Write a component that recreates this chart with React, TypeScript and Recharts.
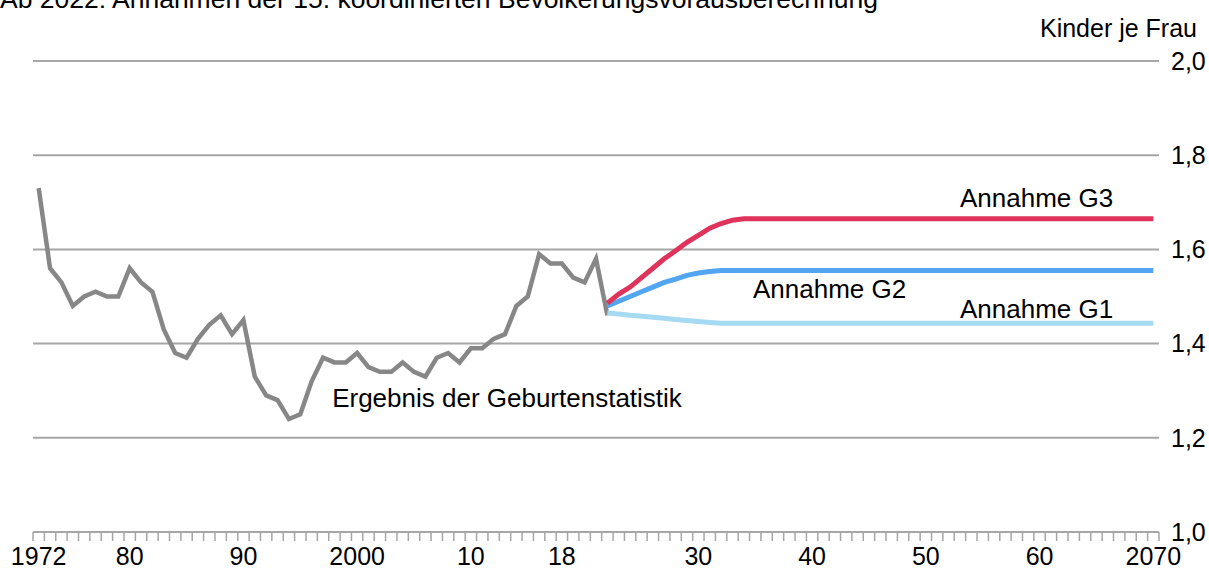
import React from 'react';
import { LineChart, Line, XAxis, YAxis, CartesianGrid, ReferenceDot } from 'recharts';

const FONT = '"Liberation Sans", Arial, "DejaVu Sans", sans-serif';

// categories
const years: number[] = Array.from({ length: 99 }, (_, i) => 1972 + i);
const projectionStartYear = 2022;

// Ergebnis der Geburtenstatistik, 1972–2022
const historyValues = [
  1.73, 1.56, 1.53, 1.48, 1.50, 1.51, 1.50, 1.50, 1.56, 1.53,
  1.51, 1.43, 1.38, 1.37, 1.41, 1.44, 1.46, 1.42, 1.45, 1.33,
  1.29, 1.28, 1.24, 1.25, 1.32, 1.37, 1.36, 1.36, 1.38, 1.35,
  1.34, 1.34, 1.36, 1.34, 1.33, 1.37, 1.38, 1.36, 1.39, 1.39,
  1.41, 1.42, 1.48, 1.50, 1.59, 1.57, 1.57, 1.54, 1.53, 1.58,
  1.46,
];

// Annahmen 2022–2070
const g1Values = [
  1.465, 1.463, 1.460, 1.458, 1.456, 1.454, 1.451, 1.449, 1.447, 1.445,
  1.443, 1.443, 1.443, 1.443, 1.443, 1.443, 1.443, 1.443, 1.443, 1.443,
  1.443, 1.443, 1.443, 1.443, 1.443, 1.443, 1.443, 1.443, 1.443, 1.443,
  1.443, 1.443, 1.443, 1.443, 1.443, 1.443, 1.443, 1.443, 1.443, 1.443,
  1.443, 1.443, 1.443, 1.443, 1.443, 1.443, 1.443, 1.443, 1.443,
];
const g2Values = [
  1.480, 1.490, 1.500, 1.510, 1.520, 1.530, 1.537, 1.545, 1.550, 1.553,
  1.555, 1.555, 1.555, 1.555, 1.555, 1.555, 1.555, 1.555, 1.555, 1.555,
  1.555, 1.555, 1.555, 1.555, 1.555, 1.555, 1.555, 1.555, 1.555, 1.555,
  1.555, 1.555, 1.555, 1.555, 1.555, 1.555, 1.555, 1.555, 1.555, 1.555,
  1.555, 1.555, 1.555, 1.555, 1.555, 1.555, 1.555, 1.555, 1.555,
];
const g3Values = [
  1.486, 1.505, 1.520, 1.540, 1.560, 1.580, 1.597, 1.615, 1.630, 1.645,
  1.655, 1.662, 1.665, 1.665, 1.665, 1.665, 1.665, 1.665, 1.665, 1.665,
  1.665, 1.665, 1.665, 1.665, 1.665, 1.665, 1.665, 1.665, 1.665, 1.665,
  1.665, 1.665, 1.665, 1.665, 1.665, 1.665, 1.665, 1.665, 1.665, 1.665,
  1.665, 1.665, 1.665, 1.665, 1.665, 1.665, 1.665, 1.665, 1.665,
];

const yTicks = [1.0, 1.2, 1.4, 1.6, 1.8, 2.0];
const xLabelYears = [1972, 1980, 1990, 2000, 2010, 2018, 2030, 2040, 2050, 2060, 2070];
const xLabelTexts = ['1972', '80', '90', '2000', '10', '18', '30', '40', '50', '60', '2070'];

const data = years.map((year, i) => ({
  year,
  hist: i < historyValues.length ? historyValues[i] : null,
  g1: year >= projectionStartYear ? g1Values[year - projectionStartYear] : null,
  g2: year >= projectionStartYear ? g2Values[year - projectionStartYear] : null,
  g3: year >= projectionStartYear ? g3Values[year - projectionStartYear] : null,
}));

const boundaryTicks = [...years.map((y) => y - 0.5), years[years.length - 1] + 0.5];
const xTicks = [...boundaryTicks, ...xLabelYears].sort((a, b) => a - b);

const GRID = '#a6a6a6';

const XTick = (props: any) => {
  const { x, y, payload } = props;
  const v = payload.value;
  const idx = xLabelYears.indexOf(v);
  if (idx >= 0) {
    return (
      <text x={x} y={y + 33} textAnchor="middle" fontSize={25} fill="#000" fontFamily={FONT}>
        {xLabelTexts[idx]}
      </text>
    );
  }
  if (!Number.isInteger(v)) {
    return <line x1={x} x2={x} y1={y} y2={y + 9} stroke={GRID} strokeWidth={1.5} />;
  }
  return <g />;
};

const labelStyle = { fontSize: 26, fill: '#000', fontFamily: FONT };

export default function App() {
  return (
    <div style={{ position: 'absolute', left: 0, top: 0, width: 1209, height: 571, background: '#fff', overflow: 'hidden' }}>
      <LineChart
        width={1209}
        height={571}
        data={data}
        margin={{ top: 61, right: 0, left: 33, bottom: 0 }}
        style={{ fontFamily: FONT }}
      >
        <CartesianGrid vertical={false} stroke={GRID} strokeWidth={2} />
        <XAxis
          dataKey="year"
          type="number"
          domain={[1971.5, 2070.5]}
          ticks={xTicks}
          interval={0}
          height={39}
          tickSize={0}
          tickMargin={0}
          tickLine={false}
          axisLine={{ stroke: GRID, strokeWidth: 2 }}
          tick={<XTick />}
          allowDataOverflow
        />
        <YAxis
          orientation="right"
          domain={[1, 2]}
          ticks={yTicks}
          width={50}
          axisLine={false}
          tickLine={false}
          tickMargin={6}
          tick={{ fill: '#000', fontSize: 25, fontFamily: FONT }}
          tickFormatter={(v: number) => v.toFixed(1).replace('.', ',')}
          interval={0}
        />
        <Line dataKey="hist" stroke="#878787" strokeWidth={4.5} dot={false} isAnimationActive={false} connectNulls={false} />
        <Line dataKey="g1" stroke="#a6d9f2" strokeWidth={5} dot={false} isAnimationActive={false} />
        <Line dataKey="g2" stroke="#52a5f0" strokeWidth={5} dot={false} isAnimationActive={false} />
        <Line dataKey="g3" stroke="#e0335c" strokeWidth={5} dot={false} isAnimationActive={false} />
        <ReferenceDot x={2053} y={1.709} r={0} stroke="none" fill="none"
          label={{ value: 'Annahme G3', position: 'right', offset: 0, ...labelStyle }} />
        <ReferenceDot x={2034.8} y={1.516} r={0} stroke="none" fill="none"
          label={{ value: 'Annahme G2', position: 'right', offset: 0, ...labelStyle }} />
        <ReferenceDot x={2053} y={1.475} r={0} stroke="none" fill="none"
          label={{ value: 'Annahme G1', position: 'right', offset: 0, ...labelStyle }} />
        <ReferenceDot x={1997.8} y={1.284} r={0} stroke="none" fill="none"
          label={{ value: 'Ergebnis der Geburtenstatistik', position: 'right', offset: 0, ...labelStyle }} />
      </LineChart>
      <svg width={1209} height={571} style={{ position: 'absolute', left: 0, top: 0, pointerEvents: 'none' }}>
        <text x={0} y={8} fontSize={26.5} fill="#000" fontFamily={FONT}>
          Ab 2022: Annahmen der 15. koordinierten Bevölkerungsvorausberechnung
        </text>
        <text x={1197} y={37} fontSize={25} fill="#000" fontFamily={FONT} textAnchor="end">
          Kinder je Frau
        </text>
      </svg>
    </div>
  );
}
